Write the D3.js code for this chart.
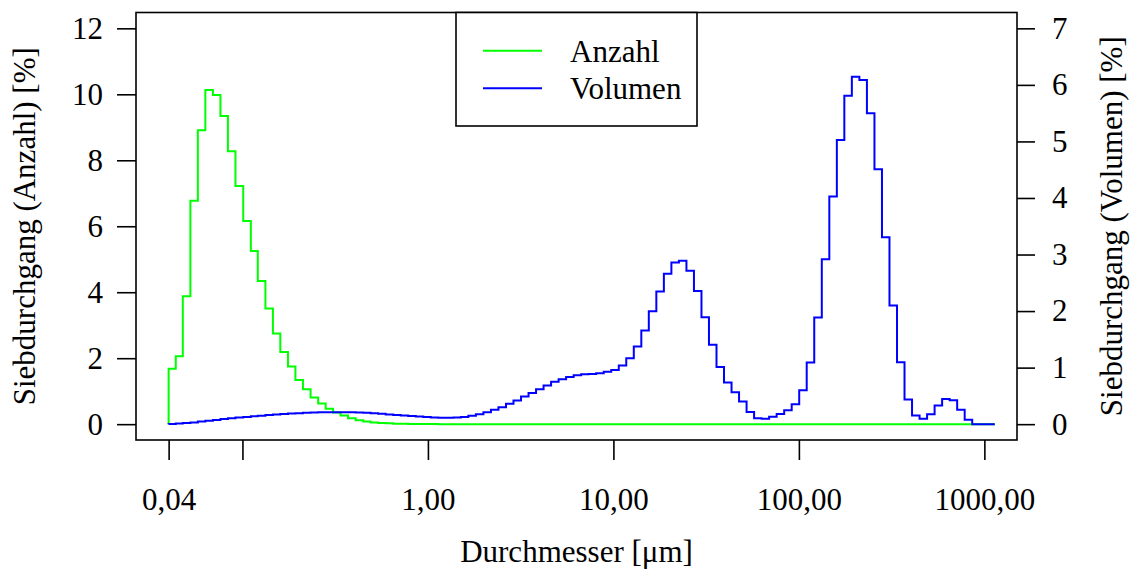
<!DOCTYPE html>
<html lang="de">
<head>
<meta charset="utf-8">
<script src="https://d3js.org/d3.v7.min.js"></script>
<style>
  body { margin: 0; background: #fff; }
  svg text { font-family: "Liberation Serif", "Times New Roman", serif; }
</style>
</head>
<body>
<script>
// channel lower edges (µm), last value = upper edge of last channel
const edges = [0.04, 0.0437, 0.0477, 0.0524, 0.0575, 0.0631, 0.0693, 0.0761, 0.0835, 0.0917,
  0.101, 0.111, 0.121, 0.133, 0.146, 0.160, 0.176, 0.193, 0.212, 0.233,
  0.256, 0.281, 0.308, 0.338, 0.371, 0.408, 0.448, 0.491, 0.539, 0.592,
  0.650, 0.713, 0.783, 0.860, 0.944, 1.036, 1.138, 1.249, 1.371, 1.505,
  1.652, 1.814, 1.991, 2.186, 2.400, 2.635, 2.893, 3.176, 3.487, 3.828,
  4.202, 4.613, 5.065, 5.560, 6.104, 6.701, 7.357, 8.077, 8.867, 9.735,
  10.69, 11.73, 12.88, 14.14, 15.52, 17.04, 18.71, 20.54, 22.55, 24.76,
  27.18, 29.84, 32.75, 35.96, 39.48, 43.34, 47.58, 52.24, 57.35, 62.96,
  69.12, 75.88, 83.31, 91.46, 100.4, 110.2, 121.0, 132.9, 145.9, 160.2,
  175.8, 193.0, 211.9, 232.7, 255.5, 280.5, 307.9, 338.1, 371.1, 407.4,
  447.3, 491.1, 539.1, 591.9, 649.8, 713.4, 783.2, 859.9, 944.0, 1036,
  1138];

// Siebdurchgang nach Anzahl [%]
const anzahl = [1.68, 2.06, 3.88, 6.77, 8.91, 10.13, 9.98, 9.34, 8.27, 7.22,
  6.16, 5.25, 4.34, 3.51, 2.75, 2.19, 1.75, 1.34, 1.06, 0.81,
  0.63, 0.47, 0.35, 0.26, 0.18, 0.12, 0.08, 0.05, 0.035, 0.025,
  0.015, 0.01, 0.007, 0.005, 0.003, 0.002, 0.001, 0, 0, 0,
  0, 0, 0, 0, 0, 0, 0, 0, 0, 0,
  0, 0, 0, 0, 0, 0, 0, 0, 0, 0,
  0, 0, 0, 0, 0, 0, 0, 0, 0, 0,
  0, 0, 0, 0, 0, 0, 0, 0, 0, 0,
  0, 0, 0, 0, 0, 0, 0, 0, 0, 0,
  0, 0, 0, 0, 0, 0, 0, 0, 0, 0,
  0, 0, 0, 0, 0, 0, 0, 0, 0, 0];

// Siebdurchgang nach Volumen [%]
const volumen = [0.005, 0.01, 0.02, 0.03, 0.045, 0.06, 0.075, 0.09, 0.103, 0.116,
  0.128, 0.14, 0.151, 0.161, 0.171, 0.18, 0.188, 0.195, 0.201, 0.206,
  0.209, 0.211, 0.212, 0.212, 0.21, 0.206, 0.2, 0.192, 0.183, 0.173,
  0.163, 0.153, 0.143, 0.134, 0.126, 0.12, 0.115, 0.113, 0.116, 0.125,
  0.147, 0.177, 0.212, 0.253, 0.30, 0.359, 0.418, 0.488, 0.553, 0.618,
  0.683, 0.748, 0.795, 0.836, 0.866, 0.883, 0.889, 0.901, 0.925, 0.96,
  1.036, 1.165, 1.375, 1.655, 1.997, 2.348, 2.66, 2.86, 2.89, 2.713,
  2.357, 1.891, 1.405, 1.01, 0.736, 0.565, 0.40, 0.217, 0.105, 0.094,
  0.129, 0.182, 0.247, 0.353, 0.60, 1.089, 1.885, 2.916, 4.024, 5.026,
  5.809, 6.145, 6.086, 5.497, 4.507, 3.305, 2.097, 1.095, 0.435, 0.153,
  0.094, 0.176, 0.329, 0.447, 0.424, 0.253, 0.076, 0, 0, 0];

const xTicks = [0.04, 0.1, 1, 10, 100, 1000];
const xTickLabels = ["0,04", "", "1,00", "10,00", "100,00", "1000,00"];
const yLeftTicks = [0, 2, 4, 6, 8, 10, 12];
const yRightTicks = [0, 1, 2, 3, 4, 5, 6, 7];

const width = 1134, height = 569;
const box = {left: 136, right: 1017, top: 12.5, bottom: 440};
const fontSize = 31;

const svg = d3.select("body").append("svg")
  .attr("width", width)
  .attr("height", height);

// R-style 4% axis extension
const lx0 = Math.log10(0.04), lx1 = Math.log10(1000);
const ext = (lx1 - lx0) * 0.04;
const x = d3.scaleLog()
  .domain([Math.pow(10, lx0 - ext), Math.pow(10, lx1 + ext)])
  .range([box.left, box.right]);

const yL = d3.scaleLinear().domain([-0.48, 12.48]).range([box.bottom, box.top]);
const yR = d3.scaleLinear().domain([-0.28, 7.28]).range([box.bottom, box.top]);

function stepPoints(vals) {
  var pts = [[edges[0], 0]];
  vals.forEach(function(v, i) { pts.push([edges[i], v]); });
  pts.push([edges[vals.length], vals[vals.length - 1]]);
  return pts;
}

const lineL = d3.line().x(d => x(d[0])).y(d => yL(d[1])).curve(d3.curveStepAfter);
const lineR = d3.line().x(d => x(d[0])).y(d => yR(d[1])).curve(d3.curveStepAfter);

svg.append("path")
  .attr("d", lineL(stepPoints(anzahl)))
  .attr("fill", "none")
  .attr("stroke", "#00ff00")
  .attr("stroke-width", 2);

svg.append("path")
  .attr("d", lineR(stepPoints(volumen)))
  .attr("fill", "none")
  .attr("stroke", "#0000ff")
  .attr("stroke-width", 2);

// plot frame
svg.append("rect")
  .attr("x", box.left).attr("y", box.top)
  .attr("width", box.right - box.left).attr("height", box.bottom - box.top)
  .attr("fill", "none").attr("stroke", "#000").attr("stroke-width", 1.6);

function styleAxis(g) {
  g.attr("font-family", "Liberation Serif").attr("font-size", fontSize);
  g.select(".domain").remove();
  g.selectAll(".tick line").attr("stroke", "#000").attr("stroke-width", 1.6);
  g.selectAll(".tick text").attr("fill", "#000");
}

svg.append("g")
  .attr("transform", "translate(0," + box.bottom + ")")
  .call(d3.axisBottom(x).tickValues(xTicks)
    .tickFormat((d, i) => xTickLabels[i])
    .tickSize(20).tickPadding(28))
  .call(styleAxis);

svg.append("g")
  .attr("transform", "translate(" + box.left + ",0)")
  .call(d3.axisLeft(yL).tickValues(yLeftTicks).tickSize(19).tickPadding(14))
  .call(styleAxis);

svg.append("g")
  .attr("transform", "translate(" + box.right + ",0)")
  .call(d3.axisRight(yR).tickValues(yRightTicks).tickSize(18).tickPadding(17))
  .call(styleAxis);

// axis titles
svg.append("text")
  .attr("x", (box.left + box.right) / 2).attr("y", 562)
  .attr("text-anchor", "middle").attr("font-size", fontSize)
  .text("Durchmesser [μm]");

svg.append("text")
  .attr("transform", "translate(35," + (box.top + box.bottom) / 2 + ") rotate(-90)")
  .attr("text-anchor", "middle").attr("font-size", fontSize)
  .text("Siebdurchgang (Anzahl) [%]");

svg.append("text")
  .attr("transform", "translate(1122," + (box.top + box.bottom) / 2 + ") rotate(-90)")
  .attr("text-anchor", "middle").attr("font-size", fontSize)
  .text("Siebdurchgang (Volumen) [%]");

// legend
const legend = svg.append("g");
legend.append("rect")
  .attr("x", 456).attr("y", box.top)
  .attr("width", 241).attr("height", 126 - box.top)
  .attr("fill", "#fff").attr("stroke", "#000").attr("stroke-width", 1.6);

const legendItems = [
  {name: "Anzahl", color: "#00ff00", y: 50.7},
  {name: "Volumen", color: "#0000ff", y: 88.3}
];
legendItems.forEach(function(it) {
  legend.append("line")
    .attr("x1", 483).attr("x2", 542)
    .attr("y1", it.y).attr("y2", it.y)
    .attr("stroke", it.color).attr("stroke-width", 2);
  legend.append("text")
    .attr("x", 570).attr("y", it.y + 10.8)
    .attr("font-size", fontSize)
    .text(it.name);
});
</script>
</body>
</html>
